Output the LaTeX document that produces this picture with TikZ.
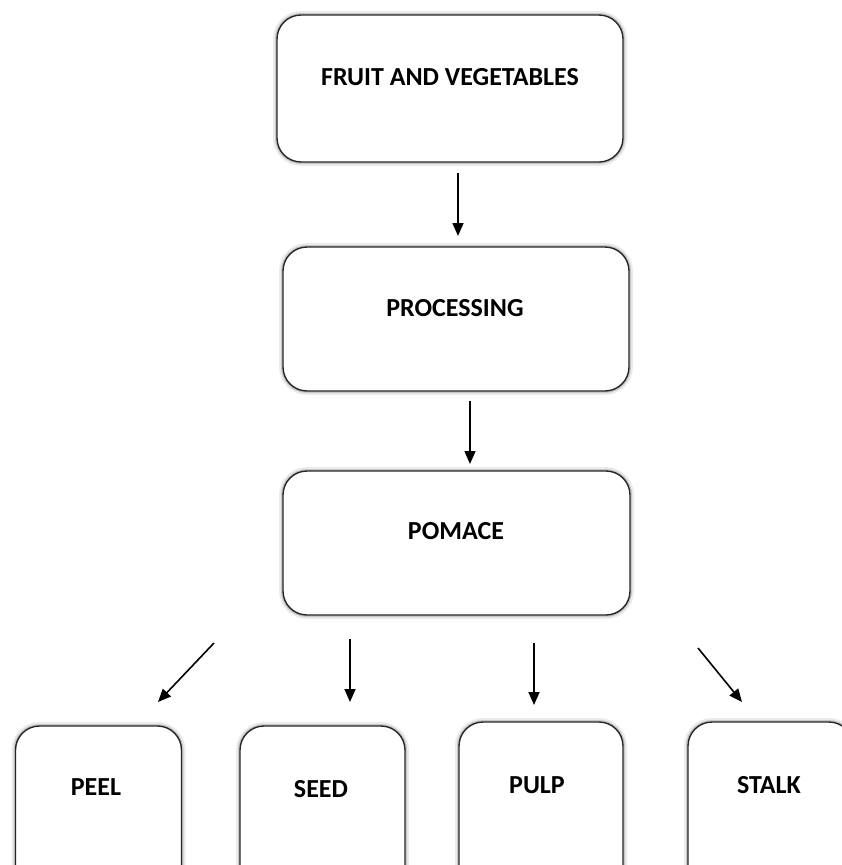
\documentclass[tikz,border=0pt]{standalone}
\usepackage{fontspec}
\setmainfont{Carlito}
\usetikzlibrary{arrows.meta}
\tikzset{
  box/.style={draw=black!85, line width=1.4pt, rounded corners=24pt, fill=white,
    preaction={draw=black!8, line width=8pt},
    preaction={draw=black!22, line width=4pt},
    inner sep=0pt},
  lbl/.style={font=\bfseries\fontsize{26}{29}\selectfont, inner sep=0pt, anchor=center},
  arr/.style={line width=1.6pt, -{Triangle[length=13pt,width=11pt]}},
}
\begin{document}
\begin{tikzpicture}[x=1pt,y=-1pt]
\useasboundingbox (0,0) rectangle (842,865);
\clip (0,0) rectangle (842,865);
\node[box, minimum width=346pt, minimum height=147pt] (fv) at (450,88.5) {};
\node[box, minimum width=346pt, minimum height=144pt] (proc) at (456,319) {};
\node[box, minimum width=347pt, minimum height=144pt] (pom) at (456.5,543) {};
\node[box, minimum width=166pt, minimum height=200pt] (peel) at (98.5,826) {};
\node[box, minimum width=165pt, minimum height=200pt] (seed) at (322.5,826) {};
\node[box, minimum width=164pt, minimum height=200pt] (pulp) at (541,822) {};
\node[box, minimum width=165pt, minimum height=200pt] (stalk) at (770.5,822) {};

\node[lbl] (fvt) at (450,77) {FRUIT AND VEGETABLES};
\node[lbl] (proct) at (455,308) {PROCESSING};
\node[lbl] (pomt) at (456,531) {POMACE};
\node[lbl] (peelt) at (96,787) {PEEL};
\node[lbl] (seedt) at (321,789) {SEED};
\node[lbl] (pulpt) at (537,785) {PULP};
\node[lbl] (stalkt) at (769,785) {STALK};

\coordinate (a1s) at (458,173); \coordinate (a1e) at (458,236);
\coordinate (a2s) at (470,401); \coordinate (a2e) at (470,464);
\coordinate (b1s) at (214,643); \coordinate (b1e) at (158,702);
\coordinate (b2s) at (350,639); \coordinate (b2e) at (350,702);
\coordinate (b3s) at (534,643); \coordinate (b3e) at (534,705);
\coordinate (b4s) at (698,648); \coordinate (b4e) at (742,702);
\draw[arr] (a1s) -- (a1e);
\draw[arr] (a2s) -- (a2e);
\draw[arr] (b1s) -- (b1e);
\draw[arr] (b2s) -- (b2e);
\draw[arr] (b3s) -- (b3e);
\draw[arr] (b4s) -- (b4e);
\end{tikzpicture}
\end{document}
